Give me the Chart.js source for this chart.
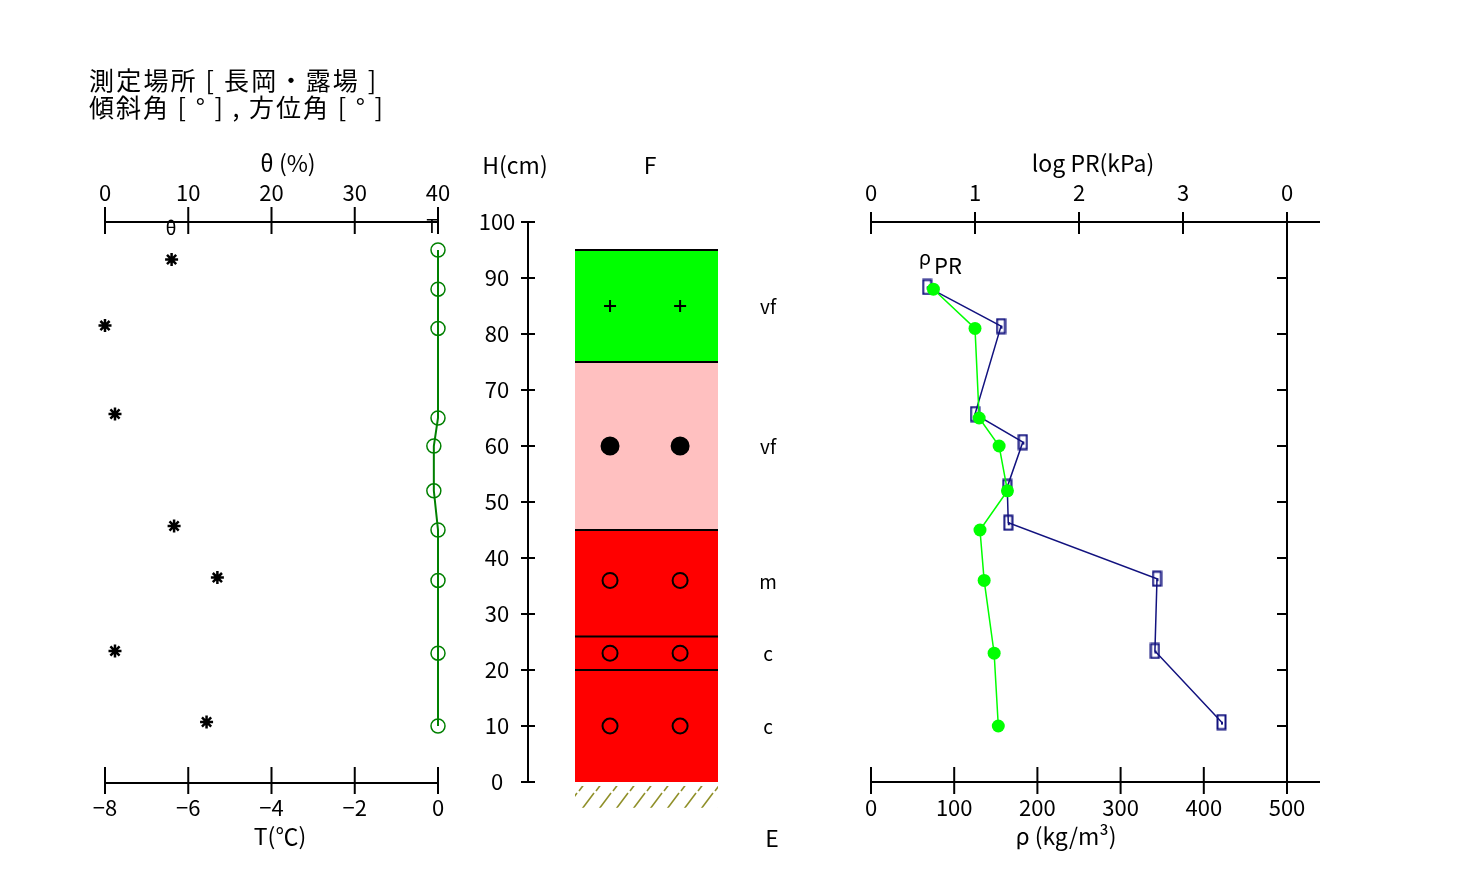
<!DOCTYPE html>
<html><head><meta charset="utf-8">
<script src="https://cdn.jsdelivr.net/npm/chart.js@4.4.1/dist/chart.umd.min.js"></script>
<style>
html,body{margin:0;padding:0;background:#fff;}
#wrap{position:relative;width:1460px;height:878px;background:#fff;overflow:hidden;}
canvas{position:absolute;left:0;top:0;}
</style></head><body>
<div id="wrap">
<canvas id="cL" width="1460" height="878"></canvas>
<canvas id="cM" width="1460" height="878"></canvas>
<canvas id="cR" width="1460" height="878"></canvas>
</div>
<script>
// ---------- data ----------
const titleLines = ['測定場所 [ 長岡・露場 ]', '傾斜角 [ ° ] , 方位角 [ ° ]'];

// left panel: snow temperature and water content
const thetaTicks = [0, 10, 20, 30, 40];
const tempTicks = [-8, -6, -4, -2, 0];
const tempH   = [95, 88, 81, 65, 60, 52, 45, 36, 23, 10];
const tempVal = [0, 0, 0, 0, -0.1, -0.1, 0, 0, 0, 0];
const thetaH   = [93.3, 81.5, 65.7, 45.7, 36.5, 23.4, 10.7];
const thetaVal = [8.0, 0, 1.2, 8.3, 13.5, 1.2, 12.2];

// middle: layer column
const hTicks = [0, 10, 20, 30, 40, 50, 60, 70, 80, 90, 100];
const layerBounds = [95, 75, 45, 26, 20, 0];
const layerColors = ['#00ff00', '#ffc0c0', '#ff0000', '#ff0000', '#ff0000'];
const groundBounds = [-0.7, -4.6];
const grainH = [85, 60, 36, 23, 10];
const grainStyle = ['cross', 'dot', 'ring', 'ring', 'ring'];
const grainLabels = ['vf', 'vf', 'm', 'c', 'c'];
const grainX = [0.245, 0.735];

// right panel: penetration resistance and density
const lprTicks = [0, 1, 2, 3, 4];
const lprTickLabels = ['0', '1', '2', '3', '0'];
const rhoTicks = [0, 100, 200, 300, 400, 500];
const prH   = [88.4, 81.4, 65.7, 60.7, 52.7, 46.3, 36.3, 23.4, 10.7];
const prVal = [0.54, 1.25, 1.00, 1.46, 1.31, 1.32, 2.75, 2.73, 3.37];
const rhoH   = [88, 81, 65, 60, 52, 45, 36, 23, 10];
const rhoVal = [75, 125, 130, 154, 164, 131, 136, 148, 153];

// ---------- helpers ----------
const FONT = "'Noto Sans CJK JP','DejaVu Sans',sans-serif";
Chart.defaults.font.family = FONT;
function txt(ctx, s, x, y, size, align, base, spacing) {
  ctx.save();
  ctx.font = size + 'px ' + FONT;
  ctx.textAlign = align || 'center';
  ctx.textBaseline = base || 'middle';
  ctx.fillStyle = '#000';
  if (spacing && 'letterSpacing' in ctx) ctx.letterSpacing = spacing;
  ctx.fillText(s, x, y);
  ctx.restore();
}
function line(ctx, x0, y0, x1, y1, w, c) {
  ctx.beginPath(); ctx.moveTo(x0, y0); ctx.lineTo(x1, y1);
  ctx.lineWidth = w || 2; ctx.strokeStyle = c || '#000'; ctx.stroke();
}
function hAxis(ctx, scale, y, x0, x1, ticks, labels, up, down, labelY) {
  line(ctx, x0, y, x1, y);
  ticks.forEach((t, i) => {
    const x = scale.getPixelForValue(t);
    line(ctx, x, y - up, x, y + down);
    txt(ctx, labels[i], x, labelY, 22);
  });
}
function pts(xs, ys) { return xs.map((v, i) => ({x: v, y: ys[i]})); }
const baseOpts = (pad, scales) => ({
  responsive: false, animation: false, events: [],
  layout: {padding: pad},
  plugins: {legend: {display: false}, tooltip: {enabled: false}, title: {display: false},
            filler: {drawTime: 'beforeDatasetsDraw'}},
  scales: scales
});

// ---------- left chart ----------
new Chart(document.getElementById('cL'), {
  type: 'scatter',
  data: {datasets: [
    {type: 'line', data: pts(tempVal, tempH), xAxisID: 'temp', yAxisID: 'y',
     borderColor: '#008000', borderWidth: 2, pointStyle: 'circle', pointRadius: 7,
     pointBorderColor: '#008000', pointBackgroundColor: 'rgba(0,0,0,0)', pointBorderWidth: 1.5,
     fill: false, tension: 0, clip: false},
    {data: pts(thetaVal, thetaH), xAxisID: 'theta', yAxisID: 'y',
     pointStyle: 'star', pointRadius: 6.5, borderColor: '#000', pointBorderWidth: 2.5, clip: false}
  ]},
  options: baseOpts({left: 105, right: 1460 - 438, top: 222, bottom: 878 - 782}, {
    theta: {type: 'linear', axis: 'x', min: 0, max: 40, display: false},
    temp: {type: 'linear', axis: 'x', min: -8, max: 0, display: false},
    y: {type: 'linear', min: 0, max: 100, display: false}
  }),
  plugins: [{id: 'leftDeco', afterDraw(chart) {
    const ctx = chart.ctx, s = chart.scales;
    txt(ctx, titleLines[0], 89, 80, 25, 'left', 'middle', '2.2px');
    txt(ctx, titleLines[1], 89, 107, 25, 'left', 'middle', '2px');
    hAxis(ctx, s.theta, 222, 105, 438, thetaTicks, thetaTicks.map(String), 15, 12, 193);
    hAxis(ctx, s.temp, 783, 104, 438, tempTicks, tempTicks.map(v => v === 0 ? '0' : '−' + Math.abs(v)), 16, 11, 808);
    txt(ctx, 'θ (%)', 288, 163, 23);
    txt(ctx, 'T(℃)', 280, 836, 23);
    txt(ctx, 'θ', 171, 228, 19);
    txt(ctx, 'T', 432, 226, 19);
  }}]
});

// ---------- middle chart ----------
const hatch = document.createElement('canvas');
hatch.width = 17; hatch.height = 22;
(function () {
  const g = hatch.getContext('2d');
  g.strokeStyle = '#8f8f28'; g.lineWidth = 1.6;
  g.beginPath(); g.moveTo(1, 21); g.lineTo(16, 1); g.stroke();
})();
const hatchPattern = hatch.getContext('2d').createPattern(hatch, 'repeat');

const midSets = [];
layerBounds.forEach((h, i) => {
  midSets.push({type: 'line', data: [{x: 0, y: h}, {x: 1, y: h}],
    borderColor: '#000', borderWidth: i < layerBounds.length - 1 ? 2 : 0,
    pointRadius: 0, fill: i < layerColors.length ? '+1' : false,
    backgroundColor: layerColors[i] || 'rgba(0,0,0,0)', clip: false});
});
midSets.push({type: 'line', data: [{x: 0, y: groundBounds[0]}, {x: 1, y: groundBounds[0]}],
  borderWidth: 0, pointRadius: 0, fill: '+1', backgroundColor: hatchPattern});
midSets.push({type: 'line', data: [{x: 0, y: groundBounds[1]}, {x: 1, y: groundBounds[1]}],
  borderWidth: 0, pointRadius: 0, fill: false});
grainH.forEach((h, i) => {
  const st = grainStyle[i];
  midSets.push({type: 'scatter', data: grainX.map(x => ({x: x, y: h})),
    pointStyle: st === 'cross' ? 'cross' : 'circle',
    pointRadius: st === 'cross' ? 6 : (st === 'dot' ? 8.5 : 7.5),
    pointBorderWidth: 2, pointBorderColor: '#000',
    pointBackgroundColor: st === 'dot' ? '#000' : 'rgba(0,0,0,0)', clip: false});
});

new Chart(document.getElementById('cM'), {
  type: 'scatter',
  data: {datasets: midSets},
  options: baseOpts({left: 575, right: 1460 - 718, top: 222, bottom: 878 - 838}, {
    x: {type: 'linear', min: 0, max: 1, display: false},
    y: {type: 'linear', min: -10, max: 100, display: false}
  }),
  plugins: [{id: 'hatchAlign', beforeDatasetsDraw(chart) {
    const s = chart.scales;
    if (hatchPattern.setTransform) {
      hatchPattern.setTransform(new DOMMatrix().translate(
        Math.round(s.x.getPixelForValue(0)), Math.round(s.y.getPixelForValue(groundBounds[0]))));
    }
  }}, {id: 'midDeco', afterDraw(chart) {
    const ctx = chart.ctx, s = chart.scales;
    const ax = 528;
    line(ctx, ax, s.y.getPixelForValue(100), ax, s.y.getPixelForValue(0));
    hTicks.forEach(h => {
      const y = s.y.getPixelForValue(h);
      line(ctx, 521, y, 535, y);
      txt(ctx, String(h), 497, y, 22);
    });
    txt(ctx, 'H(cm)', 515, 165, 23);
    txt(ctx, 'F', 650, 165, 23);
    grainH.forEach((h, i) => {
      txt(ctx, grainLabels[i], s.x.getPixelForValue(1.35), s.y.getPixelForValue(h) + 1, 19);
    });
    txt(ctx, 'E', 772, 838, 23);
  }}]
});

// ---------- right chart ----------
const NAVY = '#12127f';
const rectMark = document.createElement('canvas');
rectMark.width = 11; rectMark.height = 17;
(function () {
  const g = rectMark.getContext('2d');
  g.strokeStyle = NAVY; g.lineWidth = 2;
  g.strokeRect(1.5, 1.5, 8, 14);
  g.fillStyle = NAVY; g.fillRect(5, 8, 2, 3);
})();

new Chart(document.getElementById('cR'), {
  type: 'scatter',
  data: {datasets: [
    {type: 'line', data: pts(rhoVal, rhoH), xAxisID: 'rho', yAxisID: 'y',
     borderColor: '#00ff00', borderWidth: 1.5, pointStyle: 'circle', pointRadius: 6.5,
     pointBorderWidth: 0, pointBackgroundColor: '#00ff00', fill: false, tension: 0, clip: false},
    {type: 'line', data: pts(prVal, prH), xAxisID: 'lpr', yAxisID: 'y',
     borderColor: NAVY, borderWidth: 1.5, pointStyle: rectMark, pointRadius: 8,
     fill: false, tension: 0, clip: false}
  ]},
  options: baseOpts({left: 871, right: 1460 - 1287, top: 222, bottom: 878 - 782}, {
    lpr: {type: 'linear', axis: 'x', min: 0, max: 4, display: false},
    rho: {type: 'linear', axis: 'x', min: 0, max: 500, display: false},
    y: {type: 'linear', min: 0, max: 100, display: false}
  }),
  plugins: [{id: 'rightDeco', afterDraw(chart) {
    const ctx = chart.ctx, s = chart.scales;
    hAxis(ctx, s.lpr, 222, 871, 1320, lprTicks, lprTickLabels, 10, 12, 193);
    hAxis(ctx, s.rho, 782, 871, 1320, rhoTicks, rhoTicks.map(String), 15, 12, 808);
    const vx = s.lpr.getPixelForValue(4);
    line(ctx, vx, s.y.getPixelForValue(100), vx, s.y.getPixelForValue(0));
    hTicks.slice(1, -1).forEach(h => {
      const y = s.y.getPixelForValue(h);
      line(ctx, vx - 10, y, vx, y);
    });
    txt(ctx, 'log PR(kPa)', 1093, 163, 23);
    txt(ctx, 'ρ (kg/m³)', 1066, 836, 23);
    txt(ctx, 'ρ', 925, 257, 20);
    txt(ctx, 'PR', 934, 266, 22, 'left');
  }}]
});
</script>
</body></html>
